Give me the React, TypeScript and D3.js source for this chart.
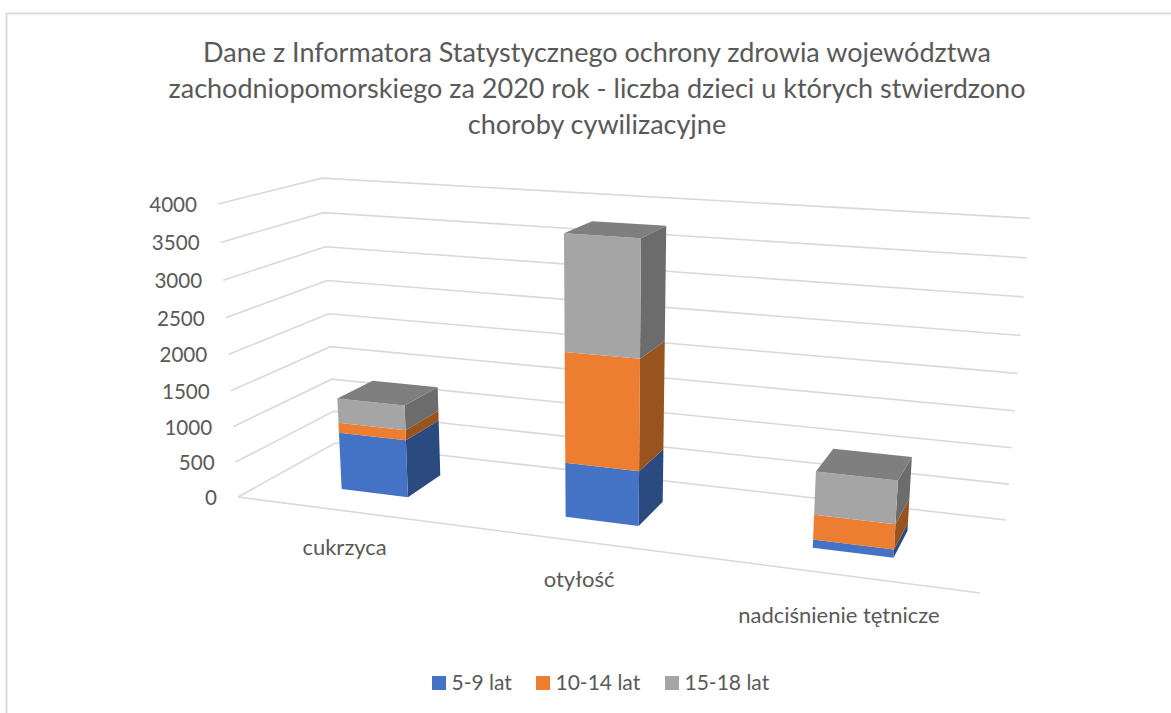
import * as d3 from "d3"
import React from "react"

const categories = ["cukrzyca", "otyłość", "nadciśnienie tętnicze"]
const seriesNames = ["5-9 lat", "10-14 lat", "15-18 lat"]
const young = [815, 750, 110]
const middle = [140, 1490, 330]
const older = [345, 1530, 565]
const yTicks = [0, 500, 1000, 1500, 2000, 2500, 3000, 3500, 4000]
const titleLines = [
  "Dane z Informatora Statystycznego ochrony zdrowia województwa",
  "zachodniopomorskiego za 2020 rok - liczba dzieci u których stwierdzono",
  "choroby cywilizacyjne",
]

const frontColors = ["#4472c4", "#ed7d31", "#a5a5a5"]
const sideColors = ["#2b4a80", "#99531e", "#6c6c6c"]
const topColor = "#7f7f7f"
const gridColor = "#d9d9d9"
const textColor = "#595959"
const font = "Lato, 'Open Sans', sans-serif"

const width = 1171
const height = 713

type P = [number, number]
// corners of the 3D box as they land on screen
const O: P = [238, 497] // front left floor
const A: P = [980, 593] // front right floor
const B: P = [335, 443] // back left floor
const C: P = [1006, 520] // back right floor
const Z: P = [218, 204] // front left top
const BZ: P = [322, 179] // back left top

// perspective weights of a unit square landing on four points
function weights(p0: P, p1: P, p11: P, p01: P) {
  const sx = p0[0] - p1[0] + p11[0] - p01[0]
  const sy = p0[1] - p1[1] + p11[1] - p01[1]
  const dx1 = p1[0] - p11[0]
  const dx2 = p01[0] - p11[0]
  const dy1 = p1[1] - p11[1]
  const dy2 = p01[1] - p11[1]
  const den = dx1 * dy2 - dx2 * dy1
  return [(sx * dy2 - dx2 * sy) / den, (dx1 * sy - sx * dy1) / den]
}

const [gu, gv] = weights(O, A, C, B)
const [, gw] = weights(O, B, BZ, Z)

// u across, v into the page, w up, all 0..1
function project(u: number, v: number, w: number): P {
  const d = 1 + gu * u + gv * v + gw * w
  const f = (i: 0 | 1) =>
    (O[i] +
      u * ((1 + gu) * A[i] - O[i]) +
      v * ((1 + gv) * B[i] - O[i]) +
      w * ((1 + gw) * Z[i] - O[i])) / d
  return [f(0), f(1)]
}

const xScale = d3.scaleBand<string>().domain(categories).range([0, 1]).paddingInner(0.694).paddingOuter(0.347)
const labelScale = d3.scalePoint<string>().domain(categories).range([0.23, 0.858])
const wScale = d3.scaleLinear().domain([0, 4000]).range([0, 1])
const depthRange = [0.295, 0.675]

const rows = categories.map((c, i) => ({
  category: c,
  [seriesNames[0]]: young[i],
  [seriesNames[1]]: middle[i],
  [seriesNames[2]]: older[i],
}))
const stacked = d3.stack<any>().keys(seriesNames)(rows)

const path = d3.line()

export default function App() {
  const legendX = [432, 536, 665]
  return (
    <svg width={width} height={height} style={{ position: "absolute", left: 0, top: 0 }} fontFamily={font}>
      <rect width={width} height={height} fill="#fff" />
      {/* chart frame, cut off on the right and at the bottom */}
      <path d="M6.5,713V13.5H1171" fill="none" stroke="#dcdcdc" strokeWidth={2} />

      {titleLines.map((t, i) => (
        <text key={t} x={597} y={62 + i * 36} textAnchor="middle" fontSize={27} fill={textColor}>{t}</text>
      ))}

      {/* walls and floor */}
      {yTicks.map((t) => {
        const w = wScale(t)
        const pts = [project(0, 0, w), project(0, 1, w), project(1, 1, w)]
        return <path key={t} d={path(pts)!} fill="none" stroke={gridColor} strokeWidth={1.6} />
      })}
      <path d={path([project(0, 0, 0), project(1, 0, 0)])!} fill="none" stroke={gridColor} strokeWidth={1.6} />

      {yTicks.map((t) => {
        const [x, y] = project(0, 0, wScale(t))
        return (
          <text key={t} x={x - 21} y={y + 8} textAnchor="end" fontSize={20.6} fill={textColor}>{t}</text>
        )
      })}

      {categories.map((c, i) => {
        const u0 = xScale(c)!
        const u1 = u0 + xScale.bandwidth()
        const [v0, v1] = depthRange
        return (
          <g key={c}>
            {stacked.map((s, k) => {
              const w0 = wScale(s[i][0])
              const w1 = wScale(s[i][1])
              return (
                <g key={s.key}>
                  <path
                    d={path([project(u1, v0, w0), project(u1, v1, w0), project(u1, v1, w1), project(u1, v0, w1)])! + "Z"}
                    fill={sideColors[k]}
                  />
                  <path
                    d={path([project(u0, v0, w0), project(u1, v0, w0), project(u1, v0, w1), project(u0, v0, w1)])! + "Z"}
                    fill={frontColors[k]}
                  />
                </g>
              )
            })}
            {(() => {
              const wt = wScale(stacked[stacked.length - 1][i][1])
              return (
                <path
                  d={path([project(u0, v0, wt), project(u1, v0, wt), project(u1, v1, wt), project(u0, v1, wt)])! + "Z"}
                  fill={topColor}
                />
              )
            })()}
          </g>
        )
      })}

      {categories.map((c) => {
        const [x, y] = project(labelScale(c)!, -0.45, 0)
        return (
          <text key={c} x={x} y={y + 8} textAnchor="middle" fontSize={22} fill={textColor}>{c}</text>
        )
      })}

      {seriesNames.map((s, i) => (
        <g key={s}>
          <rect x={legendX[i]} y={676} width={14} height={14} fill={frontColors[i]} />
          <text x={legendX[i] + 19.5} y={690} fontSize={21} fill={textColor}>{s}</text>
        </g>
      ))}
    </svg>
  )
}
